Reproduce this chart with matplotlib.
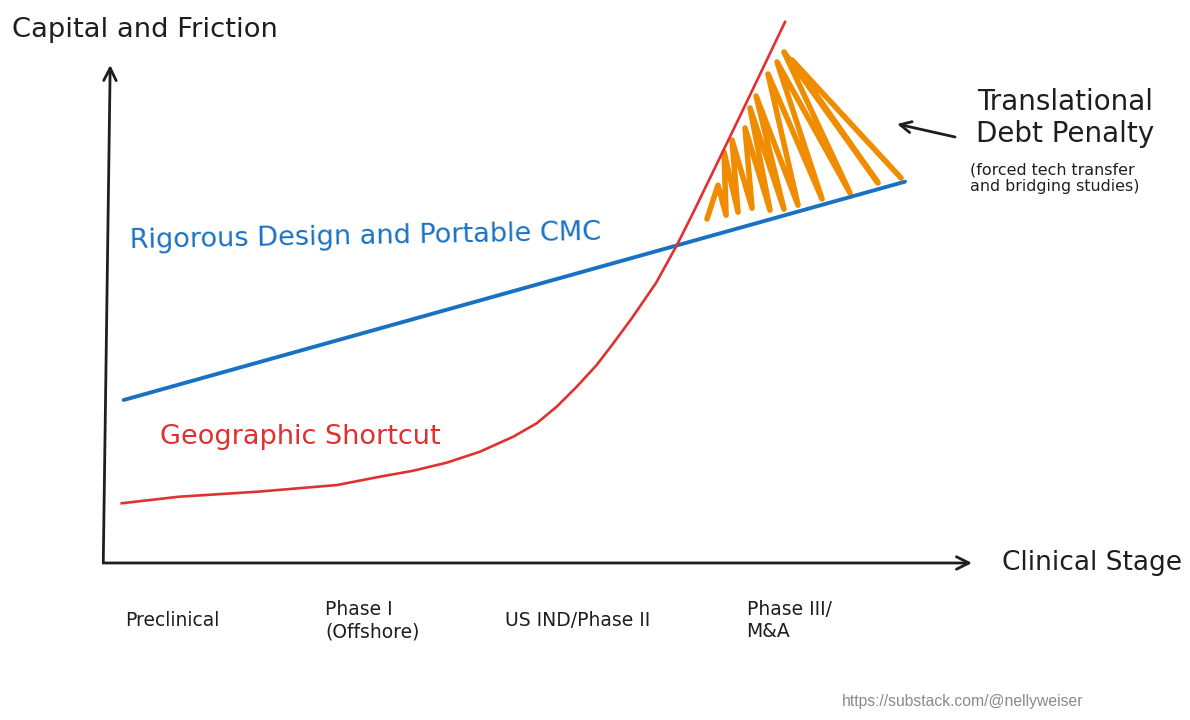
import matplotlib
matplotlib.use("Agg")
import matplotlib.pyplot as plt

# conceptual units: clinical stage on x, capital/friction on y (0..10 along the drawn axes)
stage_labels = ["Preclinical", "Phase I\n(Offshore)", "US IND/Phase II", "Phase III/\nM&A"]
stage_x = [0.23, 2.54, 4.61, 7.40]

rigorous_x = [0.216, 9.227]
rigorous_y = [3.273, 7.657]

shortcut_x = [0.193, 0.855, 1.767, 2.679, 3.172, 3.556, 3.941, 4.325, 4.709, 4.979,
              5.210, 5.441, 5.671, 5.863, 6.078, 6.355, 6.597, 6.782, 6.967, 7.313, 7.843]
shortcut_y = [1.199, 1.331, 1.432, 1.566, 1.733, 1.853, 2.014, 2.235, 2.536, 2.805,
              3.139, 3.540, 3.976, 4.412, 4.920, 5.622, 6.386, 7.028, 7.691, 8.936, 10.863]

# hand-drawn scribble filling the penalty gap (alternating bottom / top turns)
penalty_x = [6.943, 7.070, 7.163, 7.140, 7.301, 7.232, 7.463, 7.382, 7.670, 7.439, 7.831,
             7.509, 7.993, 7.647, 8.270, 7.751, 8.593, 7.831, 8.916, 7.924, 9.181]
penalty_y = [6.908, 7.586, 6.984, 8.253, 7.044, 8.494, 7.124, 8.735, 7.084, 9.137, 7.104,
             9.378, 7.185, 9.819, 7.309, 10.060, 7.430, 10.261, 7.631, 10.100, 7.731]

BLUE = "#1971c2"
RED = "#e03131"
ORANGE = "#f08c00"
INK = "#1e1e1e"
FONT = "DejaVu Sans"

fig = plt.figure(figsize=(11.9, 7.2), dpi=100)
ax = fig.add_axes([0, 0, 1, 1])
ax.set_xlim(-1.211, 12.514)
ax.set_ylim(-3.153, 11.305)
ax.axis("off")

# axes arrows
arrow = dict(arrowstyle="->,head_length=0.9,head_width=0.45", color=INK, lw=2.0,
             shrinkA=0, shrinkB=0)
ax.annotate("", xy=(0.06, 10.0), xytext=(-0.02, 0.0), arrowprops=arrow)
ax.annotate("", xy=(10.0, 0.0), xytext=(-0.02, 0.0), arrowprops=arrow)

ax.plot(penalty_x, penalty_y, color=ORANGE, lw=4.0, solid_joinstyle="round",
        solid_capstyle="round", zorder=2)
ax.plot(rigorous_x, rigorous_y, color=BLUE, lw=2.8, solid_capstyle="round", zorder=3)
ax.plot(shortcut_x, shortcut_y, color=RED, lw=1.9, solid_joinstyle="round", zorder=3)

ax.text(-1.073, 10.70, "Capital and Friction", fontsize=19.7, color=INK,
        family=FONT, ha="left", va="center")
ax.text(10.346, 0.0, "Clinical Stage", fontsize=19, color=INK,
        family=FONT, ha="left", va="center")

for sx, lab in zip(stage_x, stage_labels):
    ax.text(sx, -1.16, lab, fontsize=13.5, color=INK, family=FONT,
            ha="left", va="center", linespacing=1.2)

ax.text(0.288, 6.546, "Rigorous Design and Portable CMC", fontsize=19.5, color=BLUE,
        family=FONT, ha="left", va="center", rotation=1)
ax.text(0.634, 2.53, "Geographic Shortcut", fontsize=19.5, color=RED,
        family=FONT, ha="left", va="center")

ax.text(11.07, 8.936, "Translational\nDebt Penalty", fontsize=20, color=INK,
        family=FONT, ha="center", va="center", multialignment="center",
        linespacing=1.15)
ax.text(9.977, 7.731, "(forced tech transfer\nand bridging studies)", fontsize=11.4,
        color=INK, family=FONT, ha="left", va="center", linespacing=1.15)
ax.annotate("", xy=(9.135, 8.815), xytext=(9.804, 8.554),
            arrowprops=dict(arrowstyle="->,head_length=0.8,head_width=0.4",
                            color=INK, lw=2.0, shrinkA=0, shrinkB=0))

ax.text(9.896, -2.791, "https://substack.com/@nellyweiser", fontsize=11.3,
        color="#8a8a8a", family="Liberation Sans", ha="center", va="center")

fig.savefig("out.png", dpi=100)
